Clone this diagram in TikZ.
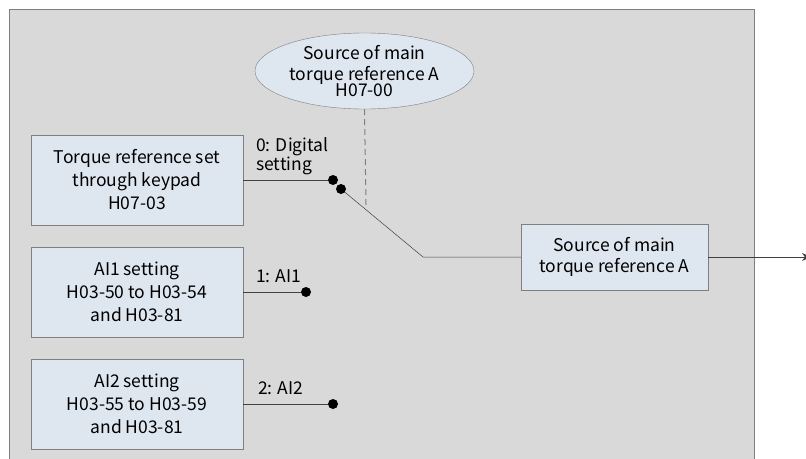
\documentclass[tikz,border=0pt]{standalone}
\usepackage{fontspec}
\setmainfont{Noto Sans CJK SC}
\usepackage{xcolor}
\usetikzlibrary{arrows.meta,positioning,shapes.geometric}

\definecolor{panelgray}{HTML}{D9D9D9}
\definecolor{boxblue}{HTML}{DEE6F0}
\definecolor{edgegray}{HTML}{7F7F7F}
\definecolor{wiregray}{HTML}{404040}

\begin{document}
\begin{tikzpicture}[
  x=1pt, y=-1pt,
  srcbox/.style={rectangle, draw=edgegray, fill=boxblue, minimum width=212pt,
    minimum height=90pt, align=center, font=\fontsize{17.5}{23}\selectfont},
  selbox/.style={ellipse, draw=edgegray, fill=boxblue, minimum width=219pt,
    minimum height=76pt, inner sep=0pt, align=center, font=\fontsize{17.5}{21}\selectfont},
  outbox/.style={rectangle, draw=edgegray, fill=boxblue, minimum width=187pt,
    minimum height=66pt, align=center, font=\fontsize{17.5}{20.5}\selectfont},
  contact/.style={circle, fill=black, inner sep=0pt, minimum size=10pt},
  tag/.style={font=\fontsize{17.5}{19}\selectfont, align=left, inner sep=0pt},
  wire/.style={draw=wiregray, line width=0.8pt},
]
  \useasboundingbox (0,0) rectangle (806,458);
  \fill[panelgray] (9,9) rectangle (754,470);
  \draw[edgegray] (9,470) -- (9,9) -- (754,9) -- (754,470);

  % source boxes
  \node[srcbox] (keypad) at (137,180) {Torque reference set\\through keypad\\H07-03};
  \node[srcbox] (ai1) at (137,292) {AI1 setting\\H03-50 to H03-54\\and H03-81};
  \node[srcbox] (ai2) at (137,404) {AI2 setting\\H03-55 to H03-59\\and H03-81};

  % selector
  \node[selbox] (sel) at (364.5,71) {Source of main\\torque reference A\\[-5pt]H07-00};
  \node[outbox] (out) at (614.5,257) {Source of main\\torque reference A};

  % contacts
  \node[contact] (c0) at (333,180) {};
  \node[contact] (c1) at (306,292) {};
  \node[contact] (c2) at (333,404) {};
  \node[contact] (pivot) at (341,189) {};
  \coordinate (knee) at (423,257);
  \coordinate (swend) at (366,205);
  \coordinate (exit) at (811,257);

  \draw[wire] (keypad.east) -- (c0);
  \draw[wire] (ai1.east) -- (c1);
  \draw[wire] (ai2.east) -- (c2);
  \draw[wire, line width=0.5pt] (pivot) -- (knee) -- (out.west);
  \draw[wire, -{Stealth[length=9pt, width=8pt]}] (out.east) -- (exit);
  \draw[edgegray, line width=1pt, dash pattern=on 6pt off 4pt] (sel.south) -- (swend);

  % position labels
  \node[tag, anchor=base west] at (256,170) {0: Digital\\setting};
  \node[tag, anchor=base west] at (256,282) {1: AI1};
  \node[tag, anchor=base west] at (258,394) {2: AI2};
\end{tikzpicture}
\end{document}
